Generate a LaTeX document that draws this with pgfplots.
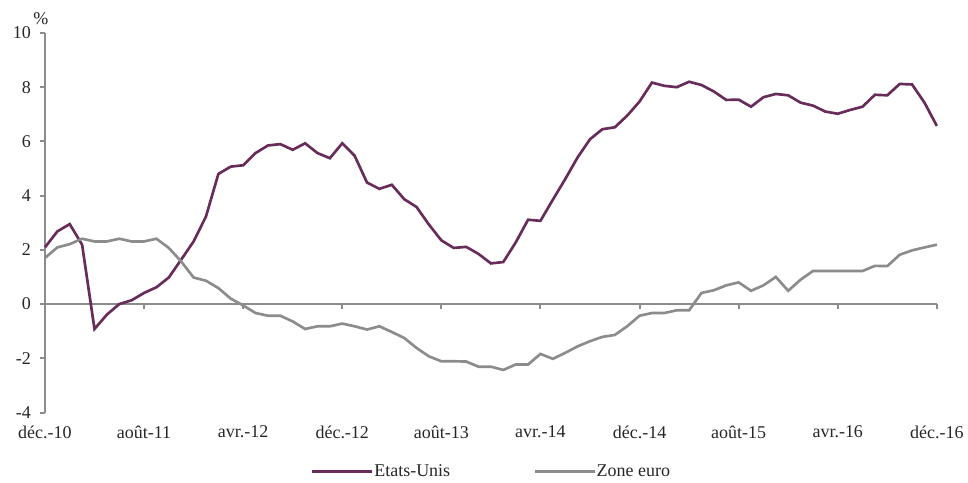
\documentclass[border=0pt]{standalone}
\usepackage{fontspec}
\setmainfont{Liberation Serif}
\usepackage{pgfplots}
\usepackage{pgfplotstable}
\pgfplotsset{compat=1.18}
\definecolor{usline}{RGB}{104,44,90}
\definecolor{euline}{RGB}{140,140,140}
\definecolor{axgray}{RGB}{140,140,140}

% month index (0 = dec. 2010), value in %
\pgfplotstableread{
m v
0 2.09
1 2.68
2 2.95
3 2.19
4 -0.92
5 -0.39
6 0.00
7 0.14
8 0.41
9 0.62
10 0.98
11 1.64
12 2.31
13 3.23
14 4.80
15 5.07
16 5.12
17 5.57
18 5.85
19 5.90
20 5.69
21 5.93
22 5.57
23 5.38
24 5.93
25 5.47
26 4.48
27 4.25
28 4.40
29 3.87
30 3.58
31 2.93
32 2.35
33 2.07
34 2.11
35 1.85
36 1.50
37 1.55
38 2.27
39 3.11
40 3.07
41 3.85
42 4.61
43 5.41
44 6.08
45 6.45
46 6.52
47 6.95
48 7.47
49 8.17
50 8.05
51 8.00
52 8.20
53 8.08
54 7.84
55 7.53
56 7.54
57 7.28
58 7.63
59 7.75
60 7.70
61 7.43
62 7.32
63 7.10
64 7.02
65 7.16
66 7.28
67 7.72
68 7.70
69 8.12
70 8.10
71 7.43
72 6.57
}\us

\pgfplotstableread{
m v
0 1.70
1 2.09
2 2.21
3 2.41
4 2.31
5 2.31
6 2.41
7 2.31
8 2.31
9 2.41
10 2.07
11 1.57
12 0.98
13 0.86
14 0.59
15 0.20
16 -0.05
17 -0.33
18 -0.43
19 -0.43
20 -0.64
21 -0.92
22 -0.82
23 -0.82
24 -0.72
25 -0.82
26 -0.94
27 -0.82
28 -1.03
29 -1.25
30 -1.62
31 -1.93
32 -2.11
33 -2.11
34 -2.12
35 -2.31
36 -2.31
37 -2.43
38 -2.23
39 -2.23
40 -1.84
41 -2.02
42 -1.80
43 -1.56
44 -1.37
45 -1.21
46 -1.14
47 -0.82
48 -0.43
49 -0.33
50 -0.33
51 -0.23
52 -0.23
53 0.41
54 0.51
55 0.69
56 0.80
57 0.49
58 0.69
59 1.00
60 0.49
61 0.90
62 1.22
63 1.22
64 1.22
65 1.22
66 1.22
67 1.41
68 1.40
69 1.82
70 1.98
71 2.09
72 2.19
}\eu

\begin{document}
\begin{tikzpicture}
\begin{axis}[
    scale only axis,
    width=669.75pt, height=285pt,
    xmin=0, xmax=72,
    ymin=-4, ymax=10,
    axis x line=middle,
    axis y line=left,
    axis line style={-, axgray, line width=1.8pt},
    tick style={axgray, line width=1.5pt},
    tick align=outside,
    major tick length=4pt,
    hide obscured x ticks=false,
    hide obscured y ticks=false,
    xtick={0,8,...,72},
    xticklabels={déc.-10,août-11,avr.-12,déc.-12,août-13,avr.-14,déc.-14,août-15,avr.-16,déc.-16},
    ytick={-4,-2,...,10},
    yticklabels={-4,-2,0,2,4,6,8,10},
    ticklabel style={font=\fontsize{13.5}{15}\selectfont, text=black!85},
    xticklabel style={yshift=-84pt},
    yticklabel style={xshift=-3pt},
    legend columns=2,
    legend style={at={(0.5,-0.155)}, anchor=center, draw=none, fill=none,
        font=\fontsize{13.5}{15}\selectfont, text=black!85,
        /tikz/every even column/.append style={column sep=62pt},
        nodes={inner sep=0.5pt}},
    legend image code/.code={\draw[#1] (0pt,0pt) -- (45pt,0pt);},
    clip=false,
]
\addplot[usline, line width=2pt] table[x=m, y=v] {\us};
\addlegendentry{Etats-Unis}
\addplot[euline, line width=2pt] table[x=m, y=v] {\eu};
\addlegendentry{Zone euro}

\node[font=\fontsize{13.5}{15}\selectfont, text=black!85] at (rel axis cs:0,1) [yshift=11pt, xshift=-3pt] {\%};
% page extent of the reference
\path (rel axis cs:0,0) ++(-33.75pt,-52.5pt) coordinate (ll);
\path (rel axis cs:1,1) ++(22.5pt,24.75pt) coordinate (ur);
\path (ll) rectangle (ur);
\end{axis}
\end{tikzpicture}
\end{document}
